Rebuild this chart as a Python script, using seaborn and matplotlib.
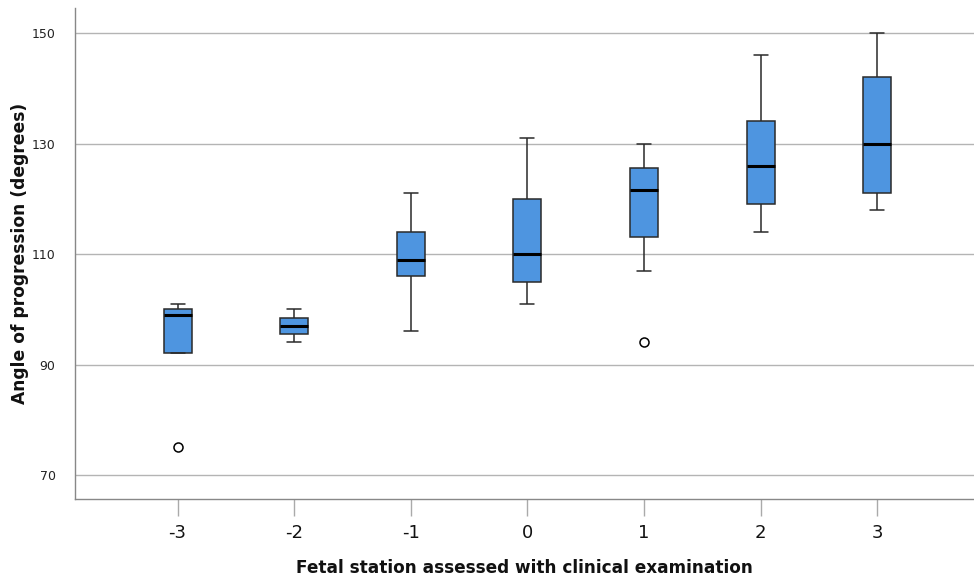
import matplotlib
matplotlib.use("Agg")
import matplotlib.pyplot as plt
import seaborn as sns
import pandas as pd

# Categories (fetal station)
stations = ["-3", "-2", "-1", "0", "1", "2", "3"]
# Five-number summaries per station (angle of progression, degrees)
whisker_low = [92, 94, 96, 101, 107, 114, 118]
q1 = [92, 95.5, 106, 105, 113, 119, 121]
median = [99, 97, 109, 110, 121.5, 126, 130]
q3 = [100, 98.5, 114, 120, 125.5, 134, 142]
whisker_high = [101, 100, 121, 131, 130, 146, 150]
# Outliers
outlier_station = ["-3", "1"]
outlier_value = [75, 94]
y_ticks = [70, 90, 110, 130, 150]

rows = []
for i, s in enumerate(stations):
    for v in (whisker_low[i], q1[i], median[i], q3[i], whisker_high[i]):
        rows.append({"station": s, "aop": v})
df = pd.DataFrame(rows)
df_out = pd.DataFrame({"station": outlier_station, "aop": outlier_value})

sns.set_theme(style="white")
plt.rcParams["font.family"] = ["DejaVu Sans"]

fig = plt.figure(figsize=(9.74, 5.81), dpi=100)
ax = fig.add_axes([0.077, 0.141, 0.923, 0.845])

for yv in y_ticks:
    ax.axhline(yv, color="#b4b4b4", linewidth=1.0, zorder=0)

sns.boxplot(data=df, x="station", y="aop", order=stations, whis=(0, 100),
            color="#4e95e0", saturation=1, width=0.24, linecolor="#2a2a2a",
            linewidth=1.1, medianprops={"color": "black", "linewidth": 2.2},
            ax=ax, zorder=2)
sns.stripplot(data=df_out, x="station", y="aop", order=stations, jitter=False,
              color="white", edgecolor="black", linewidth=1.1, size=6.5,
              ax=ax, zorder=3)

ax.set_xlim(-0.88, 6.83)
ax.set_ylim(65.65, 154.5)
ax.set_yticks(y_ticks)
ax.set_yticklabels([str(v) for v in y_ticks], fontsize=9, color="#222222")
ax.tick_params(axis="y", length=0, pad=14)
ax.tick_params(axis="x", length=12, width=1, color="#aaaaaa", labelsize=13,
               pad=6, bottom=True, labelcolor="#111111")

ax.set_xlabel("Fetal station assessed with clinical examination", fontsize=12.2,
              fontweight="bold", labelpad=12, color="#111111")
ax.set_ylabel("Angle of progression (degrees)", fontsize=12.3,
              fontweight="bold", color="#111111")
ax.yaxis.set_label_coords(-0.051, 0.5)

for side in ["top", "right"]:
    ax.spines[side].set_visible(False)
for side in ["left", "bottom"]:
    ax.spines[side].set_color("#888888")
    ax.spines[side].set_linewidth(1.0)

fig.savefig("out.png", dpi=100)
